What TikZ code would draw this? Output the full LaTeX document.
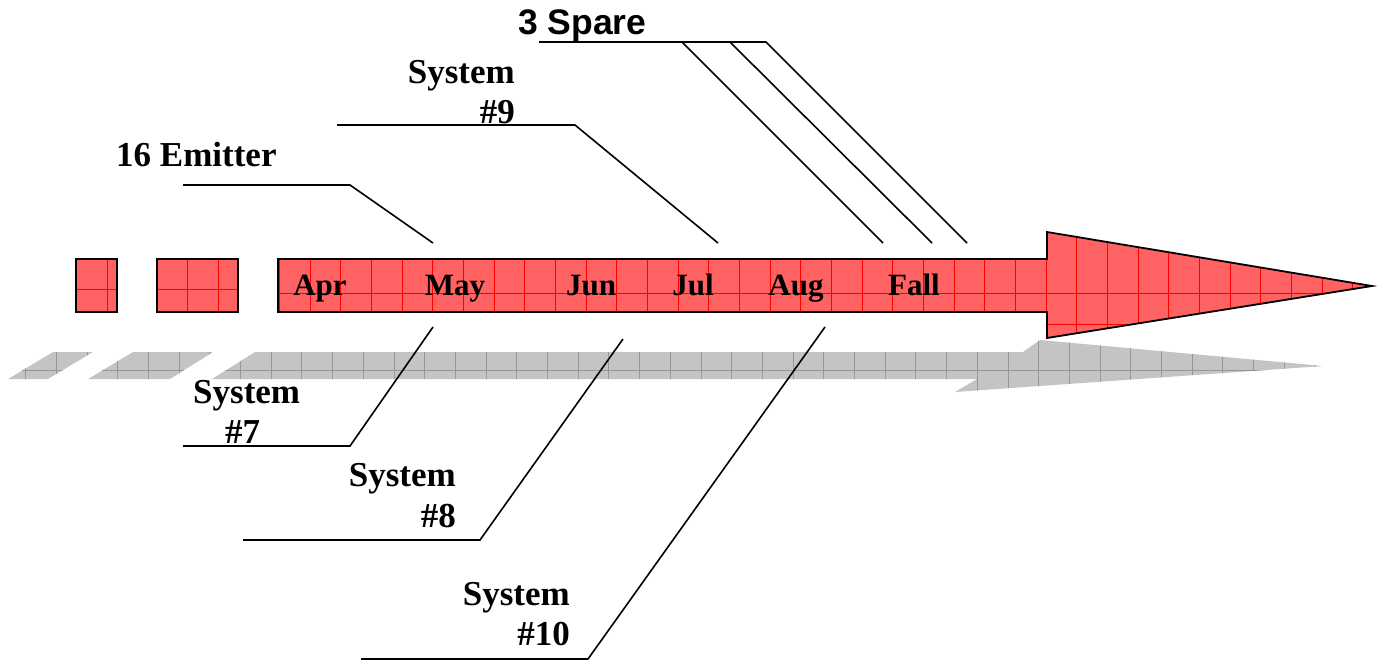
\documentclass[tikz,border=0pt]{standalone}
\usepackage{fontspec}
\setmainfont{Liberation Serif}
\newfontfamily\arialf{Liberation Sans}
\begin{document}
\begin{tikzpicture}[x=1pt,y=-1pt,
  redfill/.style={fill={rgb,255:red,255;green,98;blue,98}},
  outl/.style={draw=black,line width=1.8pt,line join=miter},
  redgrid/.style={draw=red,line width=0.7pt},
  shadowfill/.style={fill={rgb,255:red,196;green,196;blue,196}},
  shadowgrid/.style={draw={rgb,255:red,150;green,150;blue,150},line width=0.7pt},
  leader/.style={draw=black,line width=1.6pt},
  month/.style={font=\fontsize{31}{31}\selectfont\bfseries,inner sep=0,anchor=base},
  lab/.style={font=\fontsize{35}{35}\selectfont\bfseries,inner sep=0},
]
\useasboundingbox (0,0) rectangle (1377,662);

% ---------- shadow ----------
\begin{scope}
  \clip (8,379) -- (53,352) -- (93,352) -- (48,379) -- cycle
        (88,379) -- (133,352) -- (213,352) -- (170,379) -- cycle
        (212,379) -- (255,352) -- (1023,352) -- (1040,340) -- (1323,366) -- (955,392) -- (977,379) -- cycle;
  \path[shadowfill] (0,330) rectangle (1377,400);
  \foreach \i in {-6,...,40} \draw[shadowgrid] ({179+30.7*\i},330) -- ++(0,70);
  \draw[shadowgrid] (0,370) -- (1377,370);
\end{scope}

% ---------- red shapes ----------
\begin{scope}
  \clip (76,259) rectangle (117,312)
        (157,259) rectangle (238,312)
        (278,259) -- (1047,259) -- (1047,232) -- (1372,286) -- (1047,338) -- (1047,312) -- (278,312) -- cycle;
  \path[redfill] (60,220) rectangle (1377,350);
  \draw[redgrid] (107,250) -- (107,320);
  \foreach \i in {-3,...,37} \draw[redgrid] ({218+30.67*\i},220) -- ++(0,130);
  \draw[redgrid] (60,289) -- (240,289);
  \draw[redgrid] (270,293) -- (1377,293);
  \draw[redgrid] (1000,324) -- (1377,324);
\end{scope}
\draw[outl] (76,259) rectangle (117,312);
\draw[outl] (157,259) rectangle (238,312);
\draw[outl] (278,259) -- (1047,259) -- (1047,232) -- (1372,286) -- (1047,338) -- (1047,312) -- (278,312) -- cycle;

% ---------- months ----------
\node[month] (apr) at (320,295) {Apr};
\node[month] (may) at (455,295) {May};
\node[month] (jun) at (591,295) {Jun};
\node[month] (jul) at (693,295) {Jul};
\node[month] (aug) at (796,295) {Aug};
\node[month] (fall) at (914,295) {Fall};

% ---------- labels ----------
\node[lab,anchor=base west] (emit) at (116,166) {16 Emitter};
\node[lab,anchor=base east] (s9a) at (515,83) {System};
\node[lab,anchor=base east] (s9b) at (515,123) {\#9};
\node[lab,anchor=base west] (s7a) at (193,403) {System};
\node[lab,anchor=base west] (s7b) at (225,443) {\#7};
\node[lab,anchor=base east] (s8a) at (456,486) {System};
\node[lab,anchor=base east] (s8b) at (456,527) {\#8};
\node[lab,anchor=base east] (s10a) at (570,605) {System};
\node[lab,anchor=base east] (s10b) at (570,645) {\#10};
\node[font=\arialf\fontsize{35.5}{35.5}\selectfont\bfseries,anchor=base west,inner sep=0] (spare) at (518,34) {3 Spare};

% ---------- leader lines ----------
\coordinate (e1) at (183,185); \coordinate (e2) at (350,185); \coordinate (e3) at (433,243);
\coordinate (n1) at (337,125); \coordinate (n2) at (575,125); \coordinate (n3) at (718,243);
\coordinate (p1) at (539,42);  \coordinate (p2) at (766,42);  \coordinate (p3) at (967,243);
\coordinate (p4) at (682,42);  \coordinate (p5) at (883,243);
\coordinate (p6) at (730,42);  \coordinate (p7) at (932,243);
\coordinate (v1) at (183,446); \coordinate (v2) at (350,446); \coordinate (v3) at (433,327);
\coordinate (g1) at (243,540); \coordinate (g2) at (480,540); \coordinate (g3) at (623,339);
\coordinate (t1) at (361,659); \coordinate (t2) at (588,659); \coordinate (t3) at (825,327);

\draw[leader] (e1) -- (e2) -- (e3);
\draw[leader] (n1) -- (n2) -- (n3);
\draw[leader] (p1) -- (p2) -- (p3);
\draw[leader] (p4) -- (p5);
\draw[leader] (p6) -- (p7);
\draw[leader] (v1) -- (v2) -- (v3);
\draw[leader] (g1) -- (g2) -- (g3);
\draw[leader] (t1) -- (t2) -- (t3);
\end{tikzpicture}
\end{document}
